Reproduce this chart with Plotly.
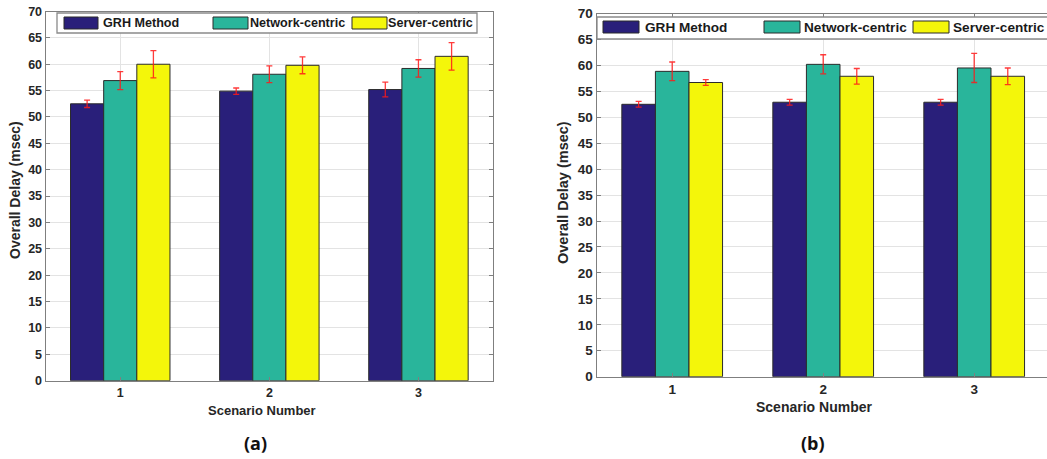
import plotly.graph_objects as go

# ---- data -------------------------------------------------------------
scenarios = [1, 2, 3]
series_names = ["GRH Method", "Network-centric", "Server-centric"]

# panel (a)
delay_a_grh = [52.5, 54.9, 55.2]
delay_a_net = [56.9, 58.1, 59.2]
delay_a_srv = [60.0, 59.8, 61.5]
err_a_grh = [0.7, 0.6, 1.4]
err_a_net = [1.7, 1.6, 1.65]
err_a_srv = [2.6, 1.6, 2.6]

# panel (b)
delay_b_grh = [52.5, 52.9, 52.9]
delay_b_net = [58.85, 60.2, 59.5]
delay_b_srv = [56.7, 57.9, 57.9]
err_b_grh = [0.55, 0.55, 0.55]
err_b_net = [1.8, 1.85, 2.8]
err_b_srv = [0.55, 1.5, 1.6]

y_ticks = list(range(0, 71, 5))

# ---- styling ----------------------------------------------------------
W, H = 1047, 459
colors = ["#291f7a", "#29b59b", "#f4f60a"]
outline = "#2b2b2b"
err_color = "rgba(255,25,25,0.85)"
txt = "#262626"
FONT = "Liberation Sans"


def px(x, y):
    """pixel position -> paper coordinates"""
    return x / W, 1 - y / H


fig = go.Figure()

panels = [
    ("x", "y", [delay_a_grh, delay_a_net, delay_a_srv], [err_a_grh, err_a_net, err_a_srv]),
    ("x2", "y2", [delay_b_grh, delay_b_net, delay_b_srv], [err_b_grh, err_b_net, err_b_srv]),
]
for xa, ya, vals, errs in panels:
    for name, v, e, c in zip(series_names, vals, errs, colors):
        fig.add_trace(go.Bar(
            x=scenarios, y=v, name=name, xaxis=xa, yaxis=ya,
            marker=dict(color=c, line=dict(color=outline, width=1)),
            error_y=dict(type="data", array=e, visible=True,
                         color=err_color, thickness=1.3, width=3),
            showlegend=False,
        ))


def axis_common(fsize):
    return dict(
        showgrid=True, gridcolor="#e3e3e3", gridwidth=1,
        showline=True, linecolor="#7f7f7f", linewidth=1.3,
        ticks="inside", ticklen=4, tickcolor="#7f7f7f",
        tickfont=dict(family=FONT, size=fsize, color=txt, weight="bold"),
        zeroline=False, automargin=False,
    )


def xaxis(domain, rng, anchor, fsize):
    return dict(domain=domain, range=rng, anchor=anchor, mirror="ticks",
                tickvals=scenarios, ticktext=[str(s) for s in scenarios],
                **axis_common(fsize))


def yaxis(domain, anchor, mirror, fsize):
    return dict(domain=domain, range=[0, 70], anchor=anchor, mirror=mirror,
                tickvals=y_ticks, **axis_common(fsize))


fig.update_layout(
    template="none",
    width=W, height=H,
    margin=dict(l=0, r=0, t=0, b=0, pad=0, autoexpand=False),
    paper_bgcolor="white", plot_bgcolor="white",
    barmode="group", bargap=0.333, bargroupgap=0,
    xaxis=xaxis([45.7 / W, 493 / W], [0.5, 3.5], "y", 12.5),
    yaxis=yaxis([(H - 380.7) / H, (H - 11.5) / H], "x", "ticks", 12.5),
    xaxis2=xaxis([596.7 / W, 1], [0.5, 0.5 + (W - 596.7) / 151], "y2", 13.5),
    yaxis2=yaxis([(H - 376.7) / H, (H - 13.5) / H], "x2", False, 13.5),
    font=dict(family=FONT, color=txt),
    showlegend=False,
)

# ---- legends drawn as boxes with wide swatches ------------------------
shapes, annotations = [], []


def legend(box, swatches, text_x, yc, sw_h, fsize):
    x0, y0 = px(box[0], box[1])
    x1, y1 = px(box[2], box[3])
    shapes.append(dict(type="rect", xref="paper", yref="paper",
                       x0=x0, y0=y1, x1=x1, y1=y0,
                       fillcolor="white", line=dict(color="#8a8a8a", width=1.3)))
    for (sx0, sx1), tx, c, name in zip(swatches, text_x, colors, series_names):
        a0, b0 = px(sx0, yc - sw_h / 2)
        a1, b1 = px(sx1, yc + sw_h / 2)
        shapes.append(dict(type="rect", xref="paper", yref="paper",
                           x0=a0, y0=b1, x1=a1, y1=b0,
                           fillcolor=c, line=dict(color=outline, width=1)))
        ax, ay = px(tx, yc)
        annotations.append(dict(xref="paper", yref="paper", x=ax, y=ay,
                                xanchor="left", yanchor="middle", showarrow=False,
                                borderpad=0, text=name,
                                font=dict(family=FONT, size=fsize, color="#1a1a1a",
                                          weight="bold")))


legend((57, 13, 477, 33), [(64, 98), (213, 248), (352, 387)],
       [102, 249, 387], 23, 12, 12.6)
legend((597, 17, 1060, 39), [(603, 639), (764, 800), (913, 949)],
       [644, 803, 952], 27, 12, 13.6)


def label(text, cx, cy, size, angle=0, family=FONT, color=txt):
    ax, ay = px(cx, cy)
    annotations.append(dict(xref="paper", yref="paper", x=ax, y=ay,
                            xanchor="center", yanchor="middle", showarrow=False,
                            borderpad=0, text=text, textangle=angle,
                            font=dict(family=family, size=size, color=color,
                                      weight="bold")))


# axis titles
label("Scenario Number", 261.7, 410, 13)
label("Scenario Number", 814, 406.7, 14)
label("Overall Delay (msec)", 15, 190, 14, angle=-90)
label("Overall Delay (msec)", 563, 193, 14.5, angle=-90)

# panel captions
label("(a)", 255, 443, 18, family="Open Sans", color="#111111")
label("(b)", 812.5, 443, 18, family="Open Sans", color="#111111")

fig.update_layout(shapes=shapes, annotations=annotations)

fig.write_html("out.html")
